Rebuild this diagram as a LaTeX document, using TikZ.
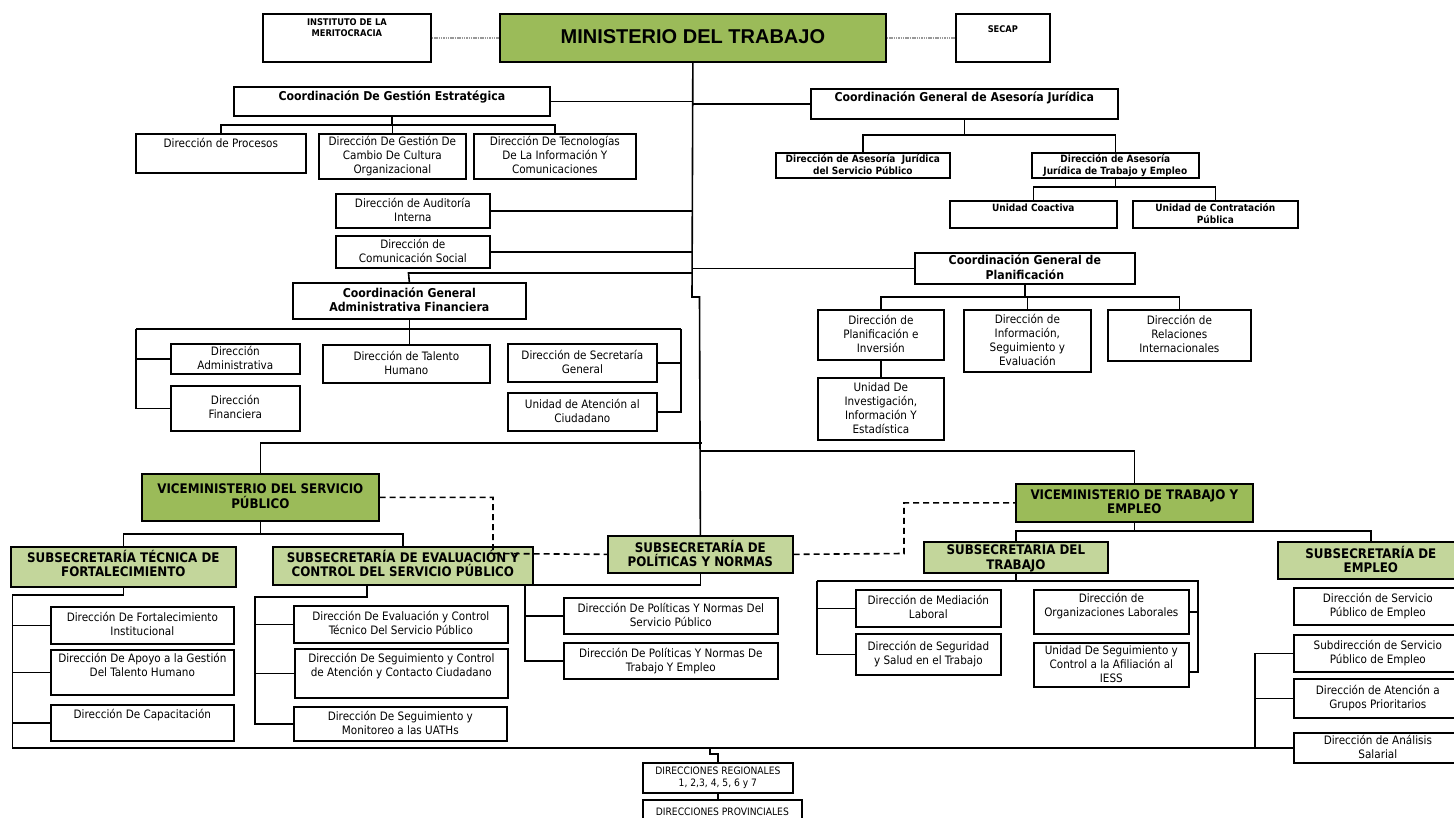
\documentclass[tikz,border=0pt]{standalone}
\usepackage{fontspec}
\setmainfont{DejaVu Sans Condensed}[BoldFont={DejaVu Sans Condensed Bold}]
\newfontfamily\arialf{Liberation Sans}
\definecolor{gdark}{HTML}{9BBB59}
\definecolor{glight}{HTML}{C3D69B}
\newcommand\tstrut{\rule{0pt}{0.85\baselineskip}}
\newcommand\bstrut{\rule[-0.15\baselineskip]{0pt}{0.15\baselineskip}}
\tikzset{
  bw/.style={draw=black, line width=1.7pt, fill=white},
  bg/.style={draw=black, line width=1.7pt, fill=gdark},
  bl/.style={draw=black, line width=1.7pt, fill=glight},
  txt/.style={inner sep=0pt, align=center, text=black, execute at begin node=\tstrut, execute at end node=\bstrut},
  tn/.style={font=\fontsize{11.6}{14}\selectfont},
  tb/.style={font=\bfseries\fontsize{12.2}{14.5}\selectfont},
  th/.style={font=\bfseries\fontsize{13.2}{14.5}\selectfont},
  ts/.style={font=\bfseries\fontsize{10}{12}\selectfont},
  tsm/.style={font=\bfseries\fontsize{9.2}{11}\selectfont},
  trg/.style={font=\fontsize{10.2}{11.5}\selectfont},
  tm/.style={font=\arialf\bfseries\fontsize{20}{24}\selectfont},
  ln/.style={line width=1.6pt, draw=black},
  dsh/.style={line width=1.6pt, draw=black, dash pattern=on 6pt off 4pt},
  dotl/.style={line width=1.4pt, draw=gray!80, dash pattern=on 1.5pt off 0.8pt},
}
\newcommand\bx[9]{%
  \node[#2, anchor=north west, inner sep=0pt, minimum width={#6pt-#4pt}, minimum height={#7pt-#5pt}] (#1) at (#4,#5) {};
  \ifx\relax#8\relax
    \node[txt,#3] (#1-t) at (#1.center) {#9};
  \else
    \node[txt,#3,anchor=north] (#1-t) at ([yshift=-#8pt]#1.north) {#9};
  \fi}
\begin{document}
\begin{tikzpicture}[x=1pt,y=-1pt]
\useasboundingbox (0,0) rectangle (1454,818);
\fill[white] (0,0) rectangle (1454,818);

% ---------- boxes ----------
\bx{inst}{bw}{tsm}{262}{13}{430}{61}{5}{INSTITUTO DE LA\\MERITOCRACIA}
\bx{min}{bg}{tm}{499}{13}{885}{61}{9.5}{MINISTERIO DEL TRABAJO}
\bx{secap}{bw}{tsm}{955}{13}{1049}{61}{9.5}{SECAP}
\bx{cge}{bw}{tb}{233}{86}{549}{115}{2}{Coordinación De Gestión Estratégica}
\bx{cgaj}{bw}{tb}{810}{88}{1117}{118}{1}{Coordinación General de Asesoría Jurídica}
\bx{proc}{bw}{tn}{135}{133}{305}{172}{2}{Dirección de Procesos}
\bx{camb}{bw}{tn}{318}{133}{465}{178}{}{Dirección De Gestión De\\Cambio De Cultura\\Organizacional}
\bx{tec}{bw}{tn}{473}{133}{635}{178}{}{Dirección De Tecnologías\\De La Información Y\\Comunicaciones}
\bx{ajsp}{bw}{ts}{775}{152}{949}{177}{}{Dirección de Asesoría\ \ Jurídica\\del Servicio Público}
\bx{ajte}{bw}{ts}{1031}{152}{1198}{177}{}{Dirección de Asesoría\\Jurídica de Trabajo y Empleo}
\bx{coact}{bw}{ts}{949}{200}{1116}{227}{1.5}{Unidad Coactiva}
\bx{contr}{bw}{ts}{1132}{200}{1297}{227}{}{Unidad de Contratación\\Pública}
\bx{aud}{bw}{tn}{335}{193}{489}{227}{}{Dirección de Auditoría\\Interna}
\bx{com}{bw}{tn}{335}{235}{489}{267}{}{Dirección de\\Comunicación Social}
\bx{plan}{bw}{tb}{914}{252}{1134}{283}{}{Coordinación General de\\Planificación}
\bx{cgaf}{bw}{tb}{292}{282}{525}{318}{}{Coordinación General\\Administrativa Financiera}
\bx{adm}{bw}{tn}{170}{343}{299}{373}{}{Dirección\\Administrativa}
\bx{fin}{bw}{tn}{170}{385}{299}{430}{}{Dirección\\Financiera}
\bx{tal}{bw}{tn}{322}{344}{489}{382}{}{Dirección de Talento\\Humano}
\bx{sec}{bw}{tn}{507}{343}{656}{381}{}{Dirección de Secretaría\\General}
\bx{ua}{bw}{tn}{507}{392}{656}{430}{}{Unidad de Atención al\\Ciudadano}
\bx{pinv}{bw}{tn}{817}{309}{943}{359}{}{Dirección de\\Planificación e\\Inversión}
\bx{info}{bw}{tn}{963}{309}{1090}{371}{}{Dirección de\\Información,\\Seguimiento y\\Evaluación}
\bx{rel}{bw}{tn}{1107}{309}{1250}{360}{}{Dirección de\\Relaciones\\Internacionales}
\bx{uinv}{bw}{tn}{817}{377}{943}{439}{}{Unidad De\\Investigación,\\Información Y\\Estadística}
\bx{vsp}{bg}{th}{141}{473}{378}{520}{}{VICEMINISTERIO DEL SERVICIO\\PÚBLICO}
\bx{vte}{bg}{th}{1015}{483}{1252}{521}{}{VICEMINISTERIO DE TRABAJO Y\\EMPLEO}
\bx{subt}{bl}{th}{10}{546}{235}{586}{4}{SUBSECRETARÍA TÉCNICA DE\\FORTALECIMIENTO}
\bx{secsp}{bl}{th}{272}{546}{532}{584}{4}{SUBSECRETARÍA DE EVALUACIÓN Y\\CONTROL DEL SERVICIO PÚBLICO}
\bx{spn}{bl}{th}{607}{535}{792}{572}{}{SUBSECRETARÍA DE\\POLÍTICAS Y NORMAS}
\bx{strab}{bl}{th}{923}{541}{1107}{572}{}{SUBSECRETARÍA DEL\\TRABAJO}
\bx{emp}{bl}{th}{1277}{541}{1463}{578}{}{SUBSECRETARÍA DE\\EMPLEO}
\bx{fort}{bw}{tn}{50}{606}{233}{643}{}{Dirección De Fortalecimiento\\Institucional}
\bx{apoyo}{bw}{tn}{50}{649}{233}{694}{4.5}{Dirección De Apoyo a la Gestión\\Del Talento Humano}
\bx{cap}{bw}{tn}{50}{704}{233}{740}{2.5}{Dirección De Capacitación}
\bx{ev}{bw}{tn}{293}{605}{507}{642}{}{Dirección De Evaluación y Control\\Técnico Del Servicio Público}
\bx{seg}{bw}{tn}{294}{648}{507}{697}{5}{Dirección De Seguimiento y Control\\de Atención y Contacto Ciudadano}
\bx{mon}{bw}{tn}{293}{706}{506}{740}{}{Dirección De Seguimiento y\\Monitoreo a las UATHs}
\bx{ps}{bw}{tn}{563}{597}{777}{633}{}{Dirección De Políticas Y Normas Del\\Servicio Público}
\bx{pt}{bw}{tn}{563}{642}{777}{678}{}{Dirección De Políticas Y Normas De\\Trabajo Y Empleo}
\bx{med}{bw}{tn}{855}{589}{1000}{626}{}{Dirección de Mediación\\Laboral}
\bx{segsal}{bw}{tn}{855}{633}{1000}{674}{}{Dirección de Seguridad\\y Salud en el Trabajo}
\bx{org}{bw}{tn}{1033}{589}{1188}{633}{4.5}{Dirección de\\Organizaciones Laborales}
\bx{iess}{bw}{tn}{1033}{642}{1188}{686}{}{Unidad De Seguimiento y\\Control a la Afiliación al\\IESS}
\bx{spe}{bw}{tn}{1293}{587}{1461}{624}{}{Dirección de Servicio\\Público de Empleo}
\bx{sub}{bw}{tn}{1293}{634}{1461}{671}{}{Subdirección de Servicio\\Público de Empleo}
\bx{aten}{bw}{tn}{1293}{678}{1461}{717}{}{Dirección de Atención a\\Grupos Prioritarios}
\bx{asal}{bw}{tn}{1293}{732}{1461}{762}{}{Dirección de Análisis\\Salarial}
\bx{reg}{bw}{trg}{642}{762}{792}{792}{}{DIRECCIONES REGIONALES\\1, 2,3, 4, 5, 6 y 7}
\bx{prov}{bw}{trg}{642}{799}{801}{835}{7}{DIRECCIONES PROVINCIALES}

% ---------- connectors ----------
\draw[dotl] (inst.east) -- (min.west);
\draw[dotl] (min.east) -- (secap.west);
\coordinate (j1) at (692,297);
\coordinate (j2) at (699.5,297);
\draw[ln] (min.south) -- (j1) -- (j2) -- (spn.north);
\draw[ln] (cge.east) -- (cge.east -| min.south);
\draw[ln] (cgaj.west) -- (cgaj.west -| min.south);
\draw[ln] (aud.east) -- (aud.east -| min.south);
\draw[ln] (com.east) -- (com.east -| min.south);
\draw[ln] (plan.west) -- (plan.west -| min.south);
\coordinate (cgafT) at (408.5,273);
\draw[ln] (cgaf.north) -- (cgafT) -- (cgafT -| min.south);
% CGE
\coordinate (b1) at (0,125);
\draw[ln] (cge.south) -- (cge.south |- b1);
\draw[ln] (proc.north) -- (proc.north |- b1) -- (tec.north |- b1) -- (tec.north);
\draw[ln] (camb.north) -- (camb.north |- b1);
% CGAJ
\coordinate (b2) at (0,135);
\draw[ln] (cgaj.south) -- (cgaj.south |- b2);
\draw[ln] (ajsp.north) -- (ajsp.north |- b2) -- (ajte.north |- b2) -- (ajte.north);
\coordinate (b3) at (0,187);
\draw[ln] (ajte.south) -- (ajte.south |- b3);
\draw[ln] (coact.north) -- (coact.north |- b3) -- (contr.north |- b3) -- (contr.north);
% CGAF
\coordinate (cL) at (136,329);
\coordinate (cR) at (681,329);
\draw[ln] (cgaf.south) -- (cgaf.south |- tal.north);
\draw[ln] (cL) -- (cR);
\draw[ln] (cL) |- (fin.west);
\draw[ln] (adm.west) -- (adm.west -| cL);
\draw[ln] (cR) |- (ua.east);
\draw[ln] (sec.east) -- (sec.east -| cR);
% Planificacion
\coordinate (b4) at (0,297);
\draw[ln] (plan.south) -- (plan.south |- b4);
\draw[ln] (pinv.north) -- (pinv.north |- b4) -- (rel.north |- b4) -- (rel.north);
\draw[ln] (info.north) -- (info.north |- b4);
\draw[ln] (pinv.south) -- (uinv.north);
% viceministerios
\coordinate (m1) at (702,443);
\draw[ln] (vsp.north) |- (m1);
\coordinate (m2) at (699.5,451);
\draw[ln] (vte.north) |- (m2);
% dashed
\coordinate (d1) at (493,553.5);
\draw[dsh] (vsp.east) -| (d1) -- (spn.west);
\coordinate (d2) at (904,553.5);
\draw[dsh] (spn.east) -- (d2) |- (vte.west);
% VSP children
\coordinate (b5) at (0,534);
\draw[ln] (vsp.south) -- (vsp.south |- b5);
\draw[ln] (subt.north) -- (subt.north |- b5) -- (secsp.north |- b5) -- (secsp.north);
% Subsecretaria tecnica
\coordinate (sL) at (12.5,595);
\draw[ln] (subt.south) |- (sL) -- (sL |- asal.west) -- (asal.west);
\draw[ln] (fort.west) -- (fort.west -| sL);
\draw[ln] (apoyo.west) -- (apoyo.west -| sL);
\draw[ln] (cap.west) -- (cap.west -| sL);
% Subsecretaria evaluacion
\coordinate (e1) at (367,597);
\coordinate (eL) at (255,597);
\draw[ln] (e1 |- secsp.south) -- (e1) -- (eL) -- (eL |- mon.west) -- (mon.west);
\draw[ln] (ev.west) -- (ev.west -| eL);
\draw[ln] (seg.west) -- (seg.west -| eL);
% Subsecretaria politicas
\coordinate (p1) at (525,585);
\draw[ln] (spn.south) |- (p1) -- (p1 |- pt.west) -- (pt.west);
\draw[ln] (ps.west) -- (ps.west -| p1);
% VTE children
\coordinate (b6) at (0,531);
\draw[ln] (vte.south) -- (vte.south |- b6);
\draw[ln] (strab.north) -- (strab.north |- b6) -- (emp.north |- b6) -- (emp.north);
% Subsecretaria del trabajo
\coordinate (t1) at (817,581);
\coordinate (t2) at (1198,581);
\coordinate (t3) at (1198,672);
\draw[ln] (strab.south) -- (strab.south |- t1);
\draw[ln] (t1) -- (t2) -- (t3) -- (iess.east |- t3);
\draw[ln] (t1) |- (segsal.west);
\draw[ln] (med.west) -- (med.west -| t1);
\draw[ln] (org.east) -- (org.east -| t2);
% Empleo
\coordinate (u1) at (1255,653);
\draw[ln] (sub.west) -- (sub.west -| u1) -- (u1 |- asal.west);
\draw[ln] (aten.west) -- (aten.west -| u1);
% regionales
\coordinate (r1) at (710,747);
\coordinate (r2) at (710,754);
\draw[ln] (r1) -- (r2) -- (r2 -| reg.north) -- (reg.north);
\draw[ln] (reg.south) -- (reg.south |- prov.north);
\end{tikzpicture}
\end{document}
